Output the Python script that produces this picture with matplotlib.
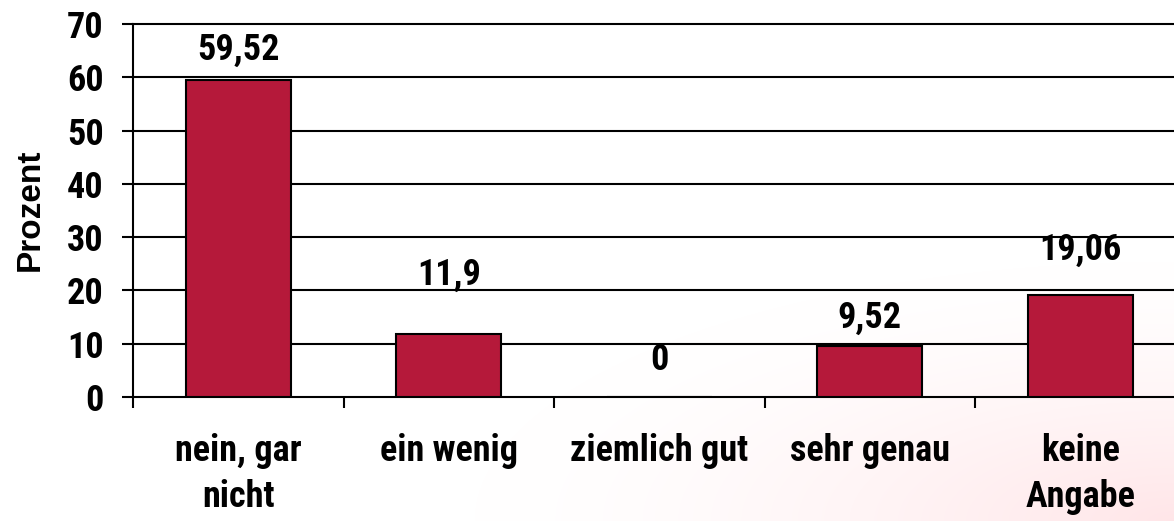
import numpy as np
import matplotlib
matplotlib.use("Agg")
import matplotlib.pyplot as plt

categories = ["nein, gar\nnicht", "ein wenig", "ziemlich gut", "sehr genau", "keine\nAngabe"]
values = [59.52, 11.9, 0, 9.52, 19.06]
value_labels = ["59,52", "11,9", "0", "9,52", "19,06"]
label_y = [65.1, 22.9, 6.9, 14.8, 27.6]
yticks = [0, 10, 20, 30, 40, 50, 60, 70]

FAM = ["Roboto Condensed", "DejaVu Sans"]
FAM2 = ["Liberation Sans", "DejaVu Sans"]
FS = 26

W, H = 1174, 521
fig = plt.figure(figsize=(W / 100, H / 100), dpi=100)

# faint pink background glow, lower right
bg = fig.add_axes([0, 0, 1, 1], zorder=-5)
yy, xx = np.mgrid[0:H, 0:W]
d = np.sqrt(((xx - 1174) / 700.0) ** 2 + ((yy - 521) / 260.0) ** 2)
a = np.clip(1 - d, 0, 1) ** 1.5 * 0.10
img = np.ones((H, W, 3))
img[..., 1] -= a * 1.0
img[..., 2] -= a * 0.9
bg.imshow(img, extent=[0, 1, 0, 1], aspect="auto", origin="upper")
bg.axis("off")

left = 133 / W
bottom = 1 - 397 / H
width = 1052.5 / W
height = 373 / H
ax = fig.add_axes([left, bottom, width, height])
ax.patch.set_alpha(0)

x = np.arange(len(categories))
ax.bar(x, values, width=0.5, color="#B5193A", edgecolor="black", linewidth=1.5, zorder=3)

ax.set_xlim(-0.5, len(categories) - 0.5)
ax.set_ylim(0, 70)
ax.set_yticks(yticks)
ax.set_yticklabels([str(t) for t in yticks], fontfamily=FAM, fontweight="bold", fontsize=FS)
for t in yticks[1:]:
    ax.axhline(t, color="black", linewidth=1.5, zorder=1, clip_on=False, xmax=1.2)

ax.tick_params(axis="y", direction="out", length=8, width=1.5, pad=13, color="black")
ax.set_xticks(x)
ax.set_xticklabels(categories, fontfamily=FAM, fontweight="bold", fontsize=FS, linespacing=1.36, va="top")
ax.tick_params(axis="x", which="major", length=0, pad=26)
ax.set_xticks(np.arange(-0.5, len(categories), 1.0), minor=True)
ax.tick_params(axis="x", which="minor", direction="out", length=8, width=1.5, color="black")

for s in ["top", "right"]:
    ax.spines[s].set_visible(False)
ax.spines["left"].set_linewidth(1.5)
ax.spines["bottom"].set_linewidth(1.5)
ax.spines["bottom"].set_bounds(-0.5, 5)

for xi, lab, ly in zip(x, value_labels, label_y):
    ax.text(xi, ly, lab, ha="center", va="center", fontfamily=FAM, fontweight="bold", fontsize=FS, zorder=4)

fig.text(30 / W, 1 - 210 / H, "Prozent", rotation=90, ha="center", va="center",
         fontfamily=FAM2, fontweight="bold", fontsize=24)

fig.savefig("out.png", dpi=100)
